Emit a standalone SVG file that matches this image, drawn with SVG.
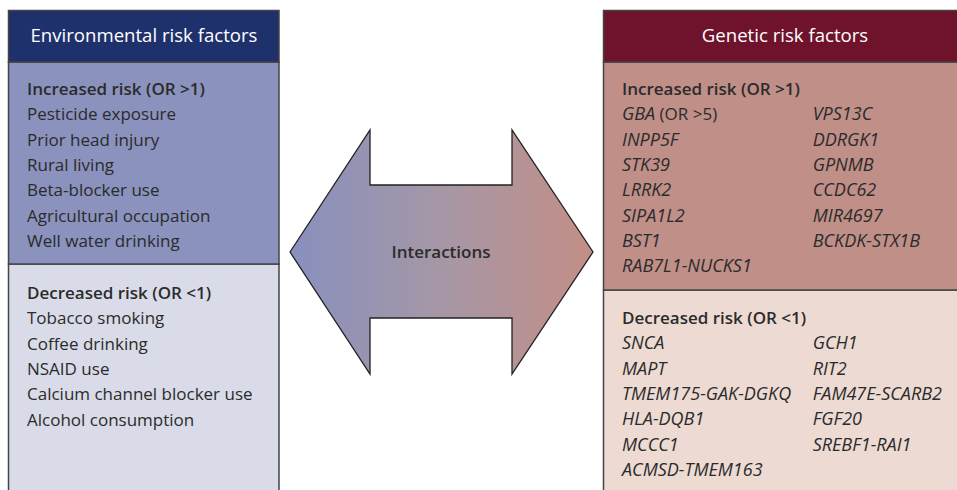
<svg xmlns="http://www.w3.org/2000/svg" width="957" height="490" viewBox="0 0 957 490">
<defs>
<linearGradient id="arrowGrad" x1="290" y1="0" x2="593" y2="0" gradientUnits="userSpaceOnUse">
<stop offset="0" stop-color="#8890be"/>
<stop offset="0.5" stop-color="#a697a6"/>
<stop offset="1" stop-color="#c48e86"/>
</linearGradient>
<style>
.t{font-family:"Open Sans","Noto Sans","Liberation Sans",sans-serif;font-size:17px;fill:#2b2b2b}
.b{font-weight:600}
.i{font-style:italic;font-size:18px}
.h{font-family:"Open Sans","Noto Sans","Liberation Sans",sans-serif;font-size:18.6px;font-weight:500;fill:#ffffff;text-anchor:middle}
.bx{stroke:#444;stroke-width:1.5}
</style>
</defs>
<rect width="957" height="490" fill="#ffffff"/>

<g id="environmental">
<rect class="bx" x="8.5" y="264" width="270.5" height="240" fill="#d9dbe8"/>
<rect class="bx" x="8.5" y="62" width="270.5" height="202" fill="#8a92bd"/>
<rect class="bx" x="8.5" y="10.5" width="270.5" height="51.5" fill="#1f316d"/>
<text class="h" x="144" y="42">Environmental risk factors</text>
<text class="t b" x="27" y="95">Increased risk (OR &gt;1)</text>
<text class="t" x="27" y="120.3">Pesticide exposure</text>
<text class="t" x="27" y="145.6">Prior head injury</text>
<text class="t" x="27" y="170.9">Rural living</text>
<text class="t" x="27" y="196.2">Beta-blocker use</text>
<text class="t" x="27" y="221.5">Agricultural occupation</text>
<text class="t" x="27" y="246.8">Well water drinking</text>
<text class="t b" x="27" y="299">Decreased risk (OR &lt;1)</text>
<text class="t" x="27" y="324.3">Tobacco smoking</text>
<text class="t" x="27" y="349.6">Coffee drinking</text>
<text class="t" x="27" y="374.9">NSAID use</text>
<text class="t" x="27" y="400.2">Calcium channel blocker use</text>
<text class="t" x="27" y="425.5">Alcohol consumption</text>
</g>

<g id="connectors">
<g id="interactions">
<polygon points="290,252 370,130 370,185 512,185 512,130 593,252 512,374 512,318 370,318 370,374" fill="url(#arrowGrad)" stroke="#222" stroke-width="1.3" stroke-linejoin="miter"/>
<text class="t b" x="441" y="257.5" text-anchor="middle" fill="#222">Interactions</text>
</g>
</g>

<g id="genetic">
<rect class="bx" x="603.5" y="290" width="370" height="214" fill="#ecdad3"/>
<rect class="bx" x="603.5" y="62" width="370" height="228" fill="#bf8f88"/>
<rect class="bx" x="603.5" y="10.5" width="370" height="51.5" fill="#6e132b"/>
<text class="h" x="785" y="42">Genetic risk factors</text>
<text class="t b" x="622" y="95">Increased risk (OR &gt;1)</text>
<text class="t" x="622" y="120.3"><tspan class="i">GBA</tspan> (OR &gt;5)</text>
<text class="t i" x="622" y="145.6">INPP5F</text>
<text class="t i" x="622" y="170.9">STK39</text>
<text class="t i" x="622" y="196.2">LRRK2</text>
<text class="t i" x="622" y="221.5">SIPA1L2</text>
<text class="t i" x="622" y="246.8">BST1</text>
<text class="t i" x="622" y="272.1">RAB7L1-NUCKS1</text>
<text class="t i" x="812.7" y="120.3">VPS13C</text>
<text class="t i" x="812.7" y="145.6">DDRGK1</text>
<text class="t i" x="812.7" y="170.9">GPNMB</text>
<text class="t i" x="812.7" y="196.2">CCDC62</text>
<text class="t i" x="812.7" y="221.5">MIR4697</text>
<text class="t i" x="812.7" y="246.8">BCKDK-STX1B</text>
<text class="t b" x="622" y="324">Decreased risk (OR &lt;1)</text>
<text class="t i" x="622" y="349.3">SNCA</text>
<text class="t i" x="622" y="374.6">MAPT</text>
<text class="t i" x="622" y="399.9">TMEM175-GAK-DGKQ</text>
<text class="t i" x="622" y="425.2">HLA-DQB1</text>
<text class="t i" x="622" y="450.5">MCCC1</text>
<text class="t i" x="622" y="475.8">ACMSD-TMEM163</text>
<text class="t i" x="812.7" y="349.3">GCH1</text>
<text class="t i" x="812.7" y="374.6">RIT2</text>
<text class="t i" x="812.7" y="399.9">FAM47E-SCARB2</text>
<text class="t i" x="812.7" y="425.2">FGF20</text>
<text class="t i" x="812.7" y="450.5">SREBF1-RAI1</text>
</g>
</svg>
